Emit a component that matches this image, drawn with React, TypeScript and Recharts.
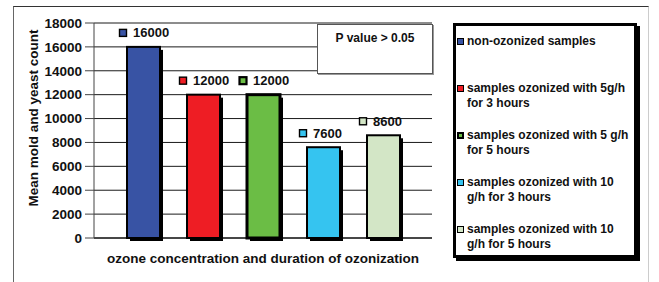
import * as React from "react";
import { BarChart, Bar, XAxis, YAxis, CartesianGrid, LabelList, Legend } from "recharts";

const CATEGORIES = ["ozone"];
const SERIES_KEYS = ["s0", "s1", "s2", "s3", "s4"];
const SERIES_NAMES = [
  "non-ozonized samples",
  "samples ozonized with 5g/h\nfor 3 hours",
  "samples ozonized with 5 g/h\nfor 5 hours",
  "samples ozonized with 10\ng/h for 3 hours",
  "samples ozonized with 10\ng/h for 5 hours",
];
const SERIES_VALUES = [16000, 12000, 12000, 7600, 8600];
const SERIES_COLORS = ["#3853a4", "#ee1d24", "#6bbd45", "#35c4f0", "#d3e6c6"];
const Y_TICKS = [0, 2000, 4000, 6000, 8000, 10000, 12000, 14000, 16000, 18000];

const FONT = "Arial, 'Liberation Sans', sans-serif";

const data = CATEGORIES.map((name) => {
  const row: Record<string, any> = { name };
  SERIES_KEYS.forEach((k, i) => (row[k] = SERIES_VALUES[i]));
  return row;
});

const ShadowBar = (props: any) => {
  const { x, y, width, height, fill, thick } = props;
  if (!width || !height) return null;
  return (
    <g>
      <rect x={x + 3} y={y + 3} width={width} height={height} fill="#000" />
      <rect
        x={x}
        y={y}
        width={width}
        height={height}
        fill={fill}
        stroke="#000"
        strokeWidth={thick ? 3 : 2}
      />
    </g>
  );
};

const ValueLabel = (props: any) => {
  const { x, y, value, color, thick } = props;
  const cy = y - 14;
  return (
    <g>
      <rect
        x={x - 7.5}
        y={cy - 3.5}
        width={7}
        height={7}
        fill={color}
        stroke="#000"
        strokeWidth={thick ? 2.2 : 1.4}
      />
      <text
        x={x + 6}
        y={cy}
        dominantBaseline="central"
        fontFamily={FONT}
        fontWeight="bold"
        fontSize={13}
        fill="#111"
      >
        {value}
      </text>
    </g>
  );
};

const renderLegend = () => (
  <div
    style={{
      boxSizing: "border-box",
      width: 184,
      height: 235,
      border: "3px solid #000",
      boxShadow: "3px 3px 0 #000",
      background: "#fff",
      position: "relative",
      fontFamily: FONT,
      fontWeight: "bold",
      fontSize: 12,
      lineHeight: "14.5px",
      color: "#111",
    }}
  >
    {SERIES_NAMES.map((name, i) => (
      <div key={name} style={{ position: "absolute", left: 0, top: 8 + i * 47, width: 180 }}>
        <span
          style={{
            position: "absolute",
            left: 1,
            top: 4,
            boxSizing: "border-box",
            width: 7,
            height: 7,
            background: SERIES_COLORS[i],
            border: i === 2 ? "2px solid #000" : "1.3px solid #000",
          }}
        />
        <div style={{ marginLeft: 11, whiteSpace: "pre-line" }}>{name}</div>
      </div>
    ))}
  </div>
);

export default function App() {
  return (
    <div style={{ position: "absolute", left: 0, top: 0, width: 659, height: 282, background: "#fff" }}>
      <div
        style={{
          position: "absolute",
          left: 13,
          top: 6,
          width: 634,
          height: 290,
          borderLeft: "1px solid #666",
          borderTop: "1px solid #333",
          borderRight: "1px solid #ccc",
        }}
      />
      <BarChart
        width={659}
        height={282}
        data={data}
        margin={{ top: 23, right: 227, bottom: 0, left: 20 }}
        barGap={27}
        barSize={33}
        style={{ position: "absolute", left: 0, top: 0 }}
      >
        <CartesianGrid vertical={false} stroke="#1a1a1a" horizontalValues={Y_TICKS} />
        <XAxis
          dataKey="name"
          height={44}
          tick={false}
          tickLine={false}
          axisLine={{ stroke: "#000" }}
          label={{
            content: ({ viewBox }: any) => (
              <text
                x={viewBox.x + viewBox.width / 2}
                y={viewBox.y + 20}
                textAnchor="middle"
                dominantBaseline="central"
                fontFamily={FONT}
                fontWeight="bold"
                fontSize={13.5}
                fill="#111"
              >
                ozone concentration and duration of ozonization
              </text>
            ),
          }}
        />
        <YAxis
          width={74}
          domain={[0, 18000]}
          ticks={Y_TICKS}
          interval={0}
          tickSize={9}
          tickMargin={3}
          axisLine={{ stroke: "#444" }}
          tickLine={{ stroke: "#444" }}
          tick={{ fontFamily: FONT, fontWeight: "bold", fontSize: 13.5, fill: "#111" }}
          label={{
            content: () => (
              <text
                x={33}
                y={118}
                transform="rotate(-90 33 118)"
                textAnchor="middle"
                dominantBaseline="central"
                fontFamily={FONT}
                fontWeight="bold"
                fontSize={13.5}
                fill="#111"
              >
                Mean mold and yeast count
              </text>
            ),
          }}
        />
        <YAxis
          yAxisId="right"
          orientation="right"
          width={0}
          domain={[0, 18000]}
          tick={false}
          tickLine={false}
          axisLine={{ stroke: "#aaa" }}
        />
        {SERIES_KEYS.map((k, i) => (
          <Bar
            key={k}
            dataKey={k}
            name={SERIES_NAMES[i]}
            fill={SERIES_COLORS[i]}
            isAnimationActive={false}
            shape={(p: any) => <ShadowBar {...p} thick={i === 2} />}
          >
            <LabelList
              dataKey={k}
              content={(p: any) => <ValueLabel {...p} color={SERIES_COLORS[i]} thick={i === 2} />}
            />
          </Bar>
        ))}
        <Legend
          layout="vertical"
          align="center"
          verticalAlign="middle"
          width={184}
          height={235}
          content={renderLegend}
          wrapperStyle={{ left: 453, top: 23, width: 184, height: 235 }}
        />
      </BarChart>
      <div
        style={{
          position: "absolute",
          left: 317,
          top: 24,
          boxSizing: "border-box",
          width: 116,
          height: 50,
          border: "1px solid #555",
          boxShadow: "1px 1px 0 #999",
          background: "#fff",
          textAlign: "center",
          paddingTop: 6,
          fontFamily: FONT,
          fontWeight: "bold",
          fontSize: 12,
          color: "#111",
        }}
      >
        P value &gt; 0.05
      </div>
    </div>
  );
}
